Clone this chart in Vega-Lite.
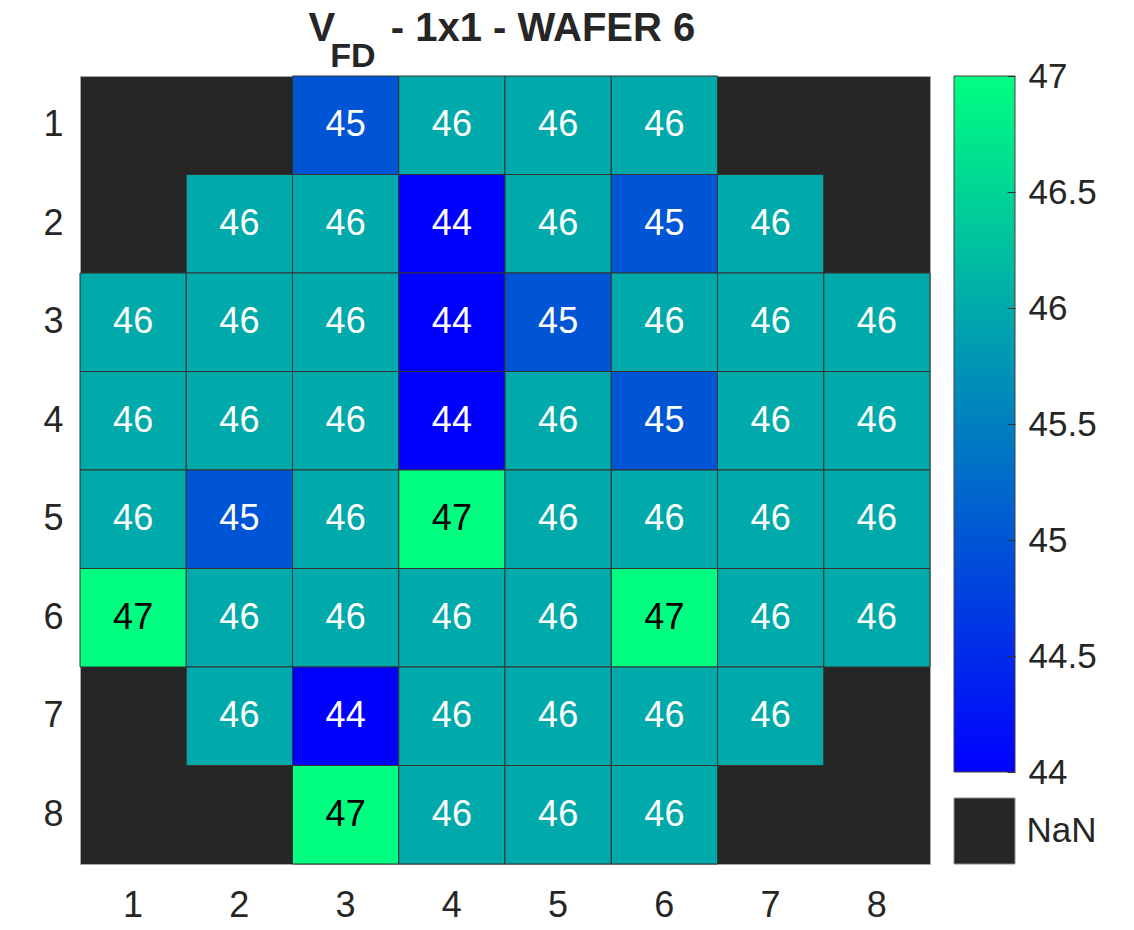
{
  "$schema": "https://vega.github.io/schema/vega-lite/v6.json",
  "padding": {"left": 42, "top": 9, "right": 5, "bottom": 0},
  "background": "white",
  "config": {
    "font": "Liberation Sans",
    "axis": {"labelFontSize": 36, "labelColor": "#262626", "labelFont": "Liberation Sans"},
    "title": {"font": "Liberation Sans", "subtitleFont": "Liberation Sans"}
  },
  "title": {
    "text": "V\u00a0\u00a0\u00a0\u00a0\u00a0- 1x1 - WAFER 6",
    "subtitle": "\u200b\u00a0\u00a0\u200aFD",
    "anchor": "start",
    "dx": 266,
    "fontSize": 40,
    "fontWeight": "bold",
    "color": "#262626",
    "subtitleFontSize": 34,
    "subtitleFontWeight": "bold",
    "subtitleColor": "#262626",
    "subtitlePadding": -9,
    "offset": -15
  },
  "bounds": "flush",
  "spacing": 24,
  "hconcat": [
    {
      "width": 850,
      "height": 788,
      "view": {"fill": "#262626", "stroke": "#a6a6a6", "strokeWidth": 1},
      "data": {
        "values": [
          {"row": 1, "col": 1, "v": null}, {"row": 1, "col": 2, "v": null}, {"row": 1, "col": 3, "v": 45}, {"row": 1, "col": 4, "v": 46}, {"row": 1, "col": 5, "v": 46}, {"row": 1, "col": 6, "v": 46}, {"row": 1, "col": 7, "v": null}, {"row": 1, "col": 8, "v": null},
          {"row": 2, "col": 1, "v": null}, {"row": 2, "col": 2, "v": 46}, {"row": 2, "col": 3, "v": 46}, {"row": 2, "col": 4, "v": 44}, {"row": 2, "col": 5, "v": 46}, {"row": 2, "col": 6, "v": 45}, {"row": 2, "col": 7, "v": 46}, {"row": 2, "col": 8, "v": null},
          {"row": 3, "col": 1, "v": 46}, {"row": 3, "col": 2, "v": 46}, {"row": 3, "col": 3, "v": 46}, {"row": 3, "col": 4, "v": 44}, {"row": 3, "col": 5, "v": 45}, {"row": 3, "col": 6, "v": 46}, {"row": 3, "col": 7, "v": 46}, {"row": 3, "col": 8, "v": 46},
          {"row": 4, "col": 1, "v": 46}, {"row": 4, "col": 2, "v": 46}, {"row": 4, "col": 3, "v": 46}, {"row": 4, "col": 4, "v": 44}, {"row": 4, "col": 5, "v": 46}, {"row": 4, "col": 6, "v": 45}, {"row": 4, "col": 7, "v": 46}, {"row": 4, "col": 8, "v": 46},
          {"row": 5, "col": 1, "v": 46}, {"row": 5, "col": 2, "v": 45}, {"row": 5, "col": 3, "v": 46}, {"row": 5, "col": 4, "v": 47}, {"row": 5, "col": 5, "v": 46}, {"row": 5, "col": 6, "v": 46}, {"row": 5, "col": 7, "v": 46}, {"row": 5, "col": 8, "v": 46},
          {"row": 6, "col": 1, "v": 47}, {"row": 6, "col": 2, "v": 46}, {"row": 6, "col": 3, "v": 46}, {"row": 6, "col": 4, "v": 46}, {"row": 6, "col": 5, "v": 46}, {"row": 6, "col": 6, "v": 47}, {"row": 6, "col": 7, "v": 46}, {"row": 6, "col": 8, "v": 46},
          {"row": 7, "col": 1, "v": null}, {"row": 7, "col": 2, "v": 46}, {"row": 7, "col": 3, "v": 44}, {"row": 7, "col": 4, "v": 46}, {"row": 7, "col": 5, "v": 46}, {"row": 7, "col": 6, "v": 46}, {"row": 7, "col": 7, "v": 46}, {"row": 7, "col": 8, "v": null},
          {"row": 8, "col": 1, "v": null}, {"row": 8, "col": 2, "v": null}, {"row": 8, "col": 3, "v": 47}, {"row": 8, "col": 4, "v": 46}, {"row": 8, "col": 5, "v": 46}, {"row": 8, "col": 6, "v": 46}, {"row": 8, "col": 7, "v": null}, {"row": 8, "col": 8, "v": null}
        ]
      },
      "transform": [{"filter": "isValid(datum.v)"}],
      "encoding": {
        "x": {
          "field": "col", "type": "ordinal",
          "scale": {"domain": [1, 2, 3, 4, 5, 6, 7, 8], "paddingInner": 0, "paddingOuter": 0},
          "axis": {"orient": "bottom", "title": null, "ticks": false, "domain": false, "labelAngle": 0, "labelPadding": 24}
        },
        "y": {
          "field": "row", "type": "ordinal",
          "scale": {"domain": [1, 2, 3, 4, 5, 6, 7, 8], "paddingInner": 0, "paddingOuter": 0},
          "axis": {"orient": "left", "title": null, "ticks": false, "domain": false, "labelPadding": 17}
        }
      },
      "layer": [
        {
          "mark": {"type": "rect", "stroke": "#333333", "strokeWidth": 1},
          "encoding": {
            "color": {
              "field": "v", "type": "quantitative",
              "scale": {"domain": [44, 47], "range": ["#0000ff", "#00ff80"], "interpolate": "rgb"},
              "legend": null
            }
          }
        },
        {
          "mark": {"type": "text", "fontSize": 36, "font": "Liberation Sans"},
          "encoding": {
            "text": {"field": "v", "type": "quantitative", "format": "d"},
            "color": {"condition": {"test": "datum.v >= 47", "value": "#000000"}, "value": "#ffffff"}
          }
        }
      ]
    },
    {
      "bounds": "flush",
      "spacing": 26,
      "vconcat": [
        {
          "width": 61,
          "height": 696,
          "view": {"stroke": null},
          "data": {"values": [{"lo": 44, "hi": 47}]},
          "mark": {
            "type": "rect",
            "stroke": "#404040",
            "strokeWidth": 1,
            "color": {
              "gradient": "linear", "x1": 0, "y1": 1, "x2": 0, "y2": 0,
              "stops": [{"offset": 0, "color": "#0000ff"}, {"offset": 1, "color": "#00ff80"}]
            }
          },
          "encoding": {
            "y": {
              "field": "lo", "type": "quantitative",
              "scale": {"domain": [44, 47], "nice": false, "zero": false},
              "axis": {
                "orient": "right", "title": null, "grid": false, "domain": false, "zindex": 1,
                "values": [44, 44.5, 45, 45.5, 46, 46.5, 47], "format": "~g",
                "tickSize": -8, "tickColor": "#333333", "tickWidth": 1,
                "labelFontSize": 35,
                "labelPadding": 21, "labelBaseline": "middle", "labelFlush": false, "labelOverlap": false
              }
            },
            "y2": {"field": "hi"}
          }
        },
        {
          "width": 61,
          "height": 66,
          "view": {"stroke": null},
          "data": {"values": [{"k": "NaN"}]},
          "mark": {"type": "rect", "color": "#262626", "stroke": "#8c8c8c", "strokeWidth": 1},
          "encoding": {
            "y": {
              "field": "k", "type": "nominal",
              "scale": {"paddingInner": 0, "paddingOuter": 0},
              "axis": {"orient": "right", "title": null, "ticks": false, "domain": false, "labelPadding": 11, "labelFontSize": 35}
            }
          }
        }
      ]
    }
  ]
}
